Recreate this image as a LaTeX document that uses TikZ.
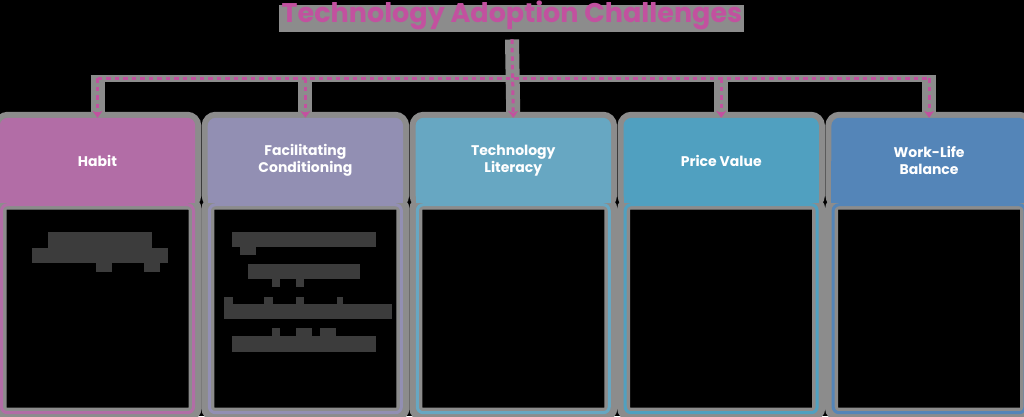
\documentclass[tikz,border=0pt]{standalone}
\usepackage{fontspec}
\setmainfont{Poppins}
\usetikzlibrary{positioning,arrows.meta,backgrounds}
\definecolor{habitcol}{HTML}{B26DA6}
\definecolor{facilcol}{HTML}{928FB3}
\definecolor{techcol}{HTML}{67A7C2}
\definecolor{pricecol}{HTML}{50A0C0}
\definecolor{worklifecol}{HTML}{5485B8}
\definecolor{titlecol}{HTML}{C2519F}
\definecolor{halocol}{HTML}{8C8C8C}
\definecolor{inkbar}{HTML}{3C3C3C}

\begin{document}
\begin{tikzpicture}[x=1pt,y=-1pt,>={Stealth[length=7pt,width=10pt]},node distance=12.5pt,
  head/.style={minimum width=195pt,minimum height=85pt,inner sep=0pt,text=white,align=center,font=\fontsize{14}{17}\selectfont\bfseries},
  body/.style={minimum width=192pt,minimum height=208pt,inner sep=0pt,line width=3pt,rounded corners=6pt,below=0pt of #1},
  link/.style={draw=titlecol,line width=3pt,dash pattern=on 4.5pt off 4pt},
  linkhalo/.style={draw=halocol,line width=#1},
  linkhalo/.default=7pt]
\useasboundingbox (0,0) rectangle (1024,416);

\node[anchor=base,text=titlecol,font=\fontsize{27}{30}\selectfont\bfseries] (title) at (512,22.5) {Technology Adoption Challenges};

\node[head] (h1) at (97.5,160.5) {Habit};
\node[head,right=of h1] (h2) {Facilitating\\Conditioning};
\node[head,right=of h2] (h3) {Technology\\Literacy};
\node[head,right=of h3] (h4) {Price Value};
\node[head,right=of h4] (h5) {Work-Life\\Balance};

\node[body=h1,draw=habitcol] (b1) {};
\node[body=h2,draw=facilcol] (b2) {};
\node[body=h3,draw=techcol] (b3) {};
\node[body=h4,draw=pricecol] (b4) {};
\node[body=h5,draw=worklifecol] (b5) {};

\coordinate (bus) at (512,78);

\draw[link,->] ([yshift=-6pt]title.south) -- (h3.north);
\draw[link] (h1.north |- bus) -- (h5.north |- bus);
\foreach \h in {h1,h2,h4,h5}
  \draw[link,->] (\h.north |- bus) -- (\h.north);

\foreach \xa/\ya/\xb/\yb in {48/232/152/248, 32/248/168/263, 96/263/112/272, 144/263/160/272,
  232/232/376/247, 240/247/256/255, 248/264/360/279, 272/279/280/287, 296/279/304/287,
  224/304/392/319, 224/297/233/304, 264/297/273/304, 296/297/304/304, 337/297/343/304,
  232/336/376/352, 272/328/280/336, 296/328/312/336, 320/328/336/336}
  \fill[inkbar] (\xa,\ya) rectangle (\xb,\yb);

\begin{scope}[on background layer]
\fill[black] (0,0) rectangle (1024,416);
\fill[halocol] (279,5) rectangle (744,32);
\draw[linkhalo=14pt] ([yshift=-6pt]title.south) -- (h3.north);
\draw[linkhalo] ([xshift=-7pt]h1.north |- bus) -- ([xshift=7pt]h5.north |- bus);
\foreach \h in {h1,h2,h4,h5}
  \draw[linkhalo=14pt] ([yshift=3pt]\h.north |- bus) -- (\h.north);
\foreach \h/\b/\c in {h1/b1/habitcol,h2/b2/facilcol,h3/b3/techcol,h4/b4/pricecol,h5/b5/worklifecol} {
  \draw[halocol,line width=12pt,rounded corners=8pt] (\h.south west) rectangle (\h.north east);
  \draw[halocol,line width=13pt,rounded corners=6pt] (\b.south west) rectangle (\b.north east);
  \fill[\c,rounded corners=8pt] (\h.south west) rectangle (\h.north east);
  \fill[\c] (\h.south west) rectangle (\h.east);
}
\end{scope}
\end{tikzpicture}
\end{document}
